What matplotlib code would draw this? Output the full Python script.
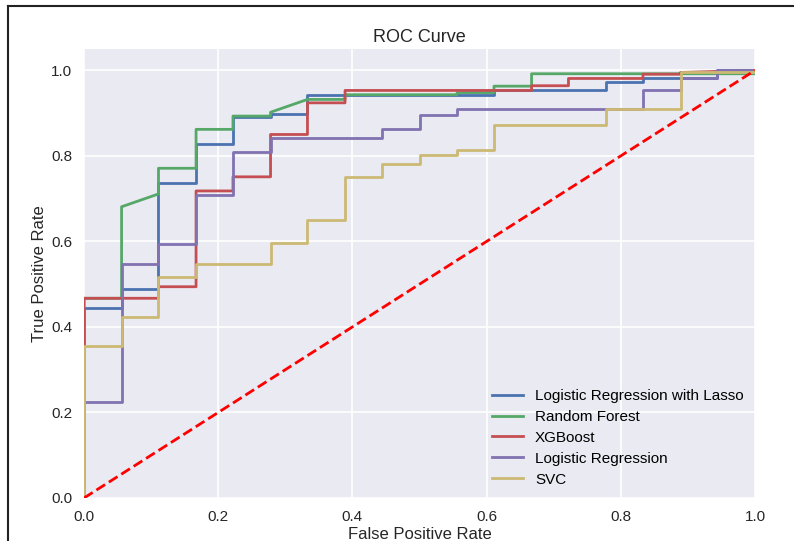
import numpy as np
import matplotlib; matplotlib.use("Agg")
import matplotlib.pyplot as plt
from matplotlib.lines import Line2D

plt.rcParams["font.family"] = ["Liberation Sans", "DejaVu Sans"]

labels = ["Logistic Regression with Lasso", "Random Forest", "XGBoost",
          "Logistic Regression", "SVC"]
colors = ["#4C72B0", "#55A868", "#C44E52", "#8172B2", "#CCB974"]

# ROC points (18 negatives -> fpr steps of 1/18)
fpr_lasso = [0, 0, 0.056, 0.056, 0.111, 0.111, 0.167, 0.167, 0.222, 0.222, 0.278, 0.278,
             0.333, 0.333, 0.611, 0.611, 0.778, 0.778, 0.833, 0.833, 0.944, 0.944, 1.0]
tpr_lasso = [0, 0.445, 0.445, 0.488, 0.488, 0.737, 0.737, 0.827, 0.827, 0.891, 0.891, 0.899,
             0.899, 0.942, 0.942, 0.953, 0.953, 0.973, 0.973, 0.981, 0.981, 1.0, 1.0]

fpr_rf = [0, 0, 0.056, 0.056, 0.111, 0.111, 0.167, 0.167, 0.222, 0.222, 0.278, 0.278,
          0.333, 0.389, 0.389, 0.556, 0.556, 0.611, 0.611, 0.667, 0.667, 1.0, 1.0]
tpr_rf = [0, 0.467, 0.467, 0.681, 0.711, 0.771, 0.771, 0.862, 0.862, 0.893, 0.893, 0.902,
          0.932, 0.932, 0.943, 0.943, 0.948, 0.948, 0.963, 0.963, 0.992, 0.992, 1.0]

fpr_xgb = [0, 0, 0.111, 0.111, 0.167, 0.167, 0.222, 0.222, 0.278, 0.278, 0.333, 0.333,
           0.389, 0.389, 0.667, 0.667, 0.722, 0.722, 0.833, 0.833, 0.889, 0.889, 1.0]
tpr_xgb = [0, 0.467, 0.467, 0.494, 0.494, 0.718, 0.718, 0.751, 0.751, 0.850, 0.850, 0.924,
           0.924, 0.953, 0.953, 0.964, 0.964, 0.981, 0.981, 0.991, 0.991, 0.995, 1.0]

fpr_lr = [0, 0, 0.056, 0.056, 0.111, 0.111, 0.167, 0.167, 0.222, 0.222, 0.278, 0.278,
          0.444, 0.444, 0.5, 0.5, 0.556, 0.556, 0.833, 0.833, 0.889, 0.889, 0.944, 0.944, 1.0]
tpr_lr = [0, 0.224, 0.224, 0.548, 0.548, 0.595, 0.595, 0.708, 0.708, 0.809, 0.809, 0.841,
          0.841, 0.862, 0.862, 0.895, 0.895, 0.910, 0.910, 0.953, 0.953, 0.981, 0.981, 1.0, 1.0]

fpr_svc = [0, 0, 0.056, 0.056, 0.111, 0.111, 0.167, 0.167, 0.278, 0.278, 0.333, 0.333,
           0.389, 0.389, 0.444, 0.444, 0.5, 0.5, 0.556, 0.556, 0.611, 0.611, 0.778, 0.778,
           0.889, 0.889, 1.0, 1.0]
tpr_svc = [0, 0.355, 0.355, 0.424, 0.424, 0.516, 0.516, 0.548, 0.548, 0.597, 0.597, 0.650,
           0.650, 0.751, 0.751, 0.782, 0.782, 0.802, 0.802, 0.814, 0.814, 0.872, 0.872, 0.910,
           0.910, 0.995, 0.995, 1.0]

curves = [(fpr_lasso, tpr_lasso), (fpr_rf, tpr_rf), (fpr_xgb, tpr_xgb),
          (fpr_lr, tpr_lr), (fpr_svc, tpr_svc)]
ticks = [0.0, 0.2, 0.4, 0.6, 0.8, 1.0]

fig = plt.figure(figsize=(7.94, 5.41), dpi=100)
ax = fig.add_axes([0.1058, 0.0795, 0.8451, 0.8300])
ax.set_facecolor("#EAEAF2")
ax.grid(color="white", lw=1.2)
ax.set_axisbelow(True)
for s in ax.spines.values(): s.set_visible(False)
ax.tick_params(length=0, labelsize=11, labelcolor="#262626", pad=8.5)

for (f, t), lab, c in zip(curves, labels, colors):
    ax.plot(f, t, color=c, lw=2, label=lab)
ax.plot([0, 1], [0, 1], "r--", lw=2)

ax.set_xlim(0, 1); ax.set_ylim(0, 1.05)
ax.set_xticks(ticks); ax.set_yticks(ticks)
ax.set_xticklabels([f"{v:.1f}" for v in ticks]); ax.set_yticklabels([f"{v:.1f}" for v in ticks])
ax.set_xlabel("False Positive Rate", fontsize=12, color="#262626", labelpad=2)
ax.set_ylabel("True Positive Rate", fontsize=12, color="#262626", labelpad=3)
ax.set_title("ROC Curve", fontsize=13, color="#262626", pad=5)
ax.legend(loc="lower right", frameon=False, fontsize=11, labelspacing=0.45, borderaxespad=0.35)

# screenshot border (left and top)
fig.add_artist(Line2D([7.5/794, 7.5/794], [0, 1 - 5.5/541], color="#222222", lw=1.5, transform=fig.transFigure))
fig.add_artist(Line2D([7.5/794, 1], [1 - 5.5/541, 1 - 5.5/541], color="#222222", lw=1.5, transform=fig.transFigure))

fig.savefig("out.png", dpi=100)
